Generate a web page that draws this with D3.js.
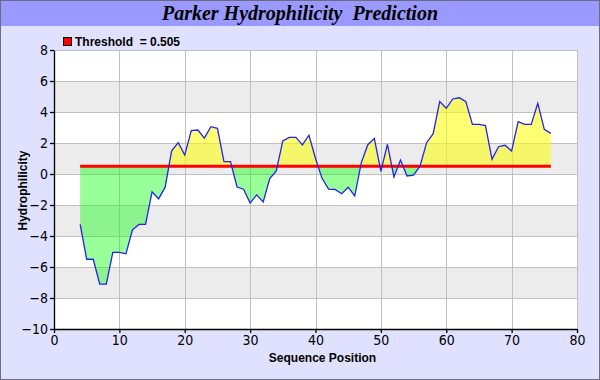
<!DOCTYPE html>
<html lang="en">
<head>
    <meta charset="UTF-8">
    <title>Parker Hydrophilicity Prediction</title>
    <style>
      body { margin: 0; background: #fff; }
      .tick text { font-family: "DejaVu Sans Condensed", "DejaVu Sans", sans-serif; font-size: 14px; font-stretch: condensed; fill: #000; }
      .axis-title { font-family: "Liberation Sans", Arial, sans-serif; font-size: 12px; font-weight: bold; white-space: pre; }
    </style>
</head>
<body>
<svg height="380" width="600"></svg>

<script src="https://cdn.jsdelivr.net/npm/d3@7"></script>
<script>

  // sequence positions 4..76 and the parker score at each
  var positions = [4, 5, 6, 7, 8, 9, 10, 11, 12, 13, 14, 15, 16, 17, 18, 19, 20,
    21, 22, 23, 24, 25, 26, 27, 28, 29, 30, 31, 32, 33, 34, 35, 36, 37, 38, 39, 40,
    41, 42, 43, 44, 45, 46, 47, 48, 49, 50, 51, 52, 53, 54, 55, 56, 57, 58, 59, 60,
    61, 62, 63, 64, 65, 66, 67, 68, 69, 70, 71, 72, 73, 74, 75, 76];

  var scores = [-3.25, -5.5, -5.5, -7.1, -7.1, -5.05, -5.05, -5.15, -3.6, -3.25, -3.25, -1.15, -1.6, -0.85, 1.5, 2.02, 1.22,
    2.8, 2.84, 2.32, 3.05, 2.95, 0.8, 0.8, -0.84, -0.98, -1.88, -1.35, -1.8, -0.3, 0.2, 2.13, 2.36, 2.36, 1.88, 2.5, 1.0,
    -0.28, -0.98, -1.0, -1.27, -0.85, -1.42, 0.72, 1.89, 2.29, 0.17, 1.91, -0.19, 0.9, -0.13, -0.08, 0.52, 2.02, 2.6, 4.67, 4.24,
    4.84, 4.92, 4.67, 3.2, 3.2, 3.12, 0.95, 1.76, 1.85, 1.48, 3.38, 3.2, 3.2, 4.56, 2.88, 2.62];

  var threshold = 0.505;
  var xTicks = [0, 10, 20, 30, 40, 50, 60, 70, 80];
  var yTicks = [-10, -8, -6, -4, -2, 0, 2, 4, 6, 8];

  var data = positions.map(function(p, i) { return {pos: p, score: scores[i]}; });

  var svgRoot = d3.select("svg");
  var W = +svgRoot.attr("width"), H = +svgRoot.attr("height");

  // frame + title bar
  svgRoot.append("rect").attr("x", 0.5).attr("y", 0.5).attr("width", W - 1).attr("height", H - 1)
      .attr("fill", "#e0e0ff").attr("stroke", "#6a6a80");
  svgRoot.append("rect").attr("x", 1).attr("y", 1).attr("width", W - 2).attr("height", 25)
      .attr("fill", "#9999ff");
  svgRoot.append("text")
      .attr("x", W / 2).attr("y", 20)
      .attr("text-anchor", "middle")
      .style("font-family", "'Liberation Serif', 'Times New Roman', serif")
      .style("font-size", "20px").style("font-weight", "bold").style("font-style", "italic")
      .style("white-space", "pre")
      .text("Parker Hydrophilicity  Prediction");

  // legend
  svgRoot.append("rect").attr("x", 63.5).attr("y", 37.5).attr("width", 8).attr("height", 8)
      .attr("fill", "#ff0000").attr("stroke", "#000");
  svgRoot.append("text").attr("class", "axis-title")
      .attr("x", 75).attr("y", 46)
      .text("Threshold  = 0.505");

  var graphMargins = {top: 50, right: 23, bottom: 51, left: 54};
  var graphWidth = W - graphMargins.left - graphMargins.right;
  var graphHeight = H - graphMargins.top - graphMargins.bottom;

  var svg = svgRoot.append("g")
      .attr("transform", "translate(" + graphMargins.left + "," + graphMargins.top + ")");

  var x = d3.scaleLinear().domain([0, 80]).range([0, graphWidth]);
  var y = d3.scaleLinear().domain([-10, 8]).range([graphHeight, 0]);

  // white / grey bands
  var bands = d3.range(yTicks.length - 1).map(function(i) { return [yTicks[i], yTicks[i + 1]]; });
  svg.selectAll(".band")
      .data(bands)
      .enter()
      .append("rect")
      .attr("x", 0)
      .attr("width", graphWidth)
      .attr("y", function(d) { return y(d[1]); })
      .attr("height", function(d) { return y(d[0]) - y(d[1]); })
      .attr("fill", function(d, i) { return i % 2 ? "#ececec" : "#ffffff"; });

  // grid
  svg.selectAll(".hgrid")
      .data(yTicks)
      .enter()
      .append("line")
      .attr("x1", 0).attr("x2", graphWidth)
      .attr("y1", function(d) { return Math.round(y(d)) + 0.5; })
      .attr("y2", function(d) { return Math.round(y(d)) + 0.5; })
      .attr("stroke", "#c0c0c0");
  svg.selectAll(".vgrid")
      .data(xTicks)
      .enter()
      .append("line")
      .attr("y1", 0).attr("y2", graphHeight)
      .attr("x1", function(d) { return Math.round(x(d)) + 0.5; })
      .attr("x2", function(d) { return Math.round(x(d)) + 0.5; })
      .attr("stroke", "#c0c0c0");

  // fills between the line and threshold, split at the threshold
  var defs = svgRoot.append("defs");
  defs.append("clipPath").attr("id", "above")
      .append("rect").attr("x", 0).attr("y", 0).attr("width", graphWidth).attr("height", y(threshold));
  defs.append("clipPath").attr("id", "below")
      .append("rect").attr("x", 0).attr("y", y(threshold)).attr("width", graphWidth).attr("height", graphHeight - y(threshold));

  var area = d3.area()
      .x(function(d) { return x(d.pos); })
      .y0(y(threshold))
      .y1(function(d) { return y(d.score); });

  svg.append("path").datum(data)
      .attr("d", area)
      .attr("fill", "#ffff00").attr("fill-opacity", 0.55)
      .attr("clip-path", "url(#above)");
  svg.append("path").datum(data)
      .attr("d", area)
      .attr("fill", "#00ff00").attr("fill-opacity", 0.4)
      .attr("clip-path", "url(#below)");

  // threshold
  svg.append("line")
      .attr("x1", x(positions[0])).attr("x2", x(positions[positions.length - 1]))
      .attr("y1", y(threshold)).attr("y2", y(threshold))
      .attr("stroke", "#ff0000").attr("stroke-width", 3);

  // score line
  svg.append("path").datum(data)
      .attr("d", d3.line().x(function(d) { return x(d.pos); }).y(function(d) { return y(d.score); }))
      .attr("fill", "none")
      .attr("stroke", "#2222ee")
      .attr("stroke-width", 1.3);

  // axes
  var xAxis = d3.axisBottom(x).tickValues(xTicks).tickSizeInner(4).tickSizeOuter(0).tickPadding(2);
  svg.append("g")
      .attr("class", "x axis")
      .attr("transform", "translate(0," + graphHeight + ")")
      .call(xAxis);

  var yAxis = d3.axisLeft(y).tickValues(yTicks).tickSizeInner(4).tickSizeOuter(0).tickPadding(2);
  svg.append("g")
      .attr("class", "y axis")
      .call(yAxis);

  svg.selectAll(".axis path, .axis line").attr("stroke", "#000").attr("stroke-width", 1.3);

  svg.append("text").attr("class", "axis-title")
      .attr("x", graphWidth / 2 + 7).attr("y", graphHeight + 33)
      .attr("text-anchor", "middle")
      .text("Sequence Position");

  svg.append("text").attr("class", "axis-title")
      .attr("transform", "translate(-27," + (graphHeight / 2 + 1) + ") rotate(-90)")
      .attr("text-anchor", "middle")
      .text("Hydrophilicity");

</script>
</body>
</html>
